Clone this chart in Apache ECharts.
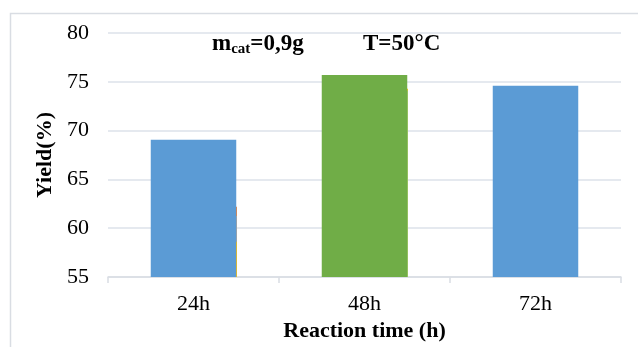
<!DOCTYPE html>
<html>
<head>
<meta charset="utf-8">
<script src="https://cdn.jsdelivr.net/npm/echarts@6/dist/echarts.min.js"></script>
<style>html,body{margin:0;padding:0;background:#fff}#c{width:638px;height:347px}</style>
</head>
<body>
<div id="c"></div>
<script>
const categories = ['24h', '48h', '72h'];
const yieldValues = [69.05, 75.7, 74.6];
const barColors = ['#5B9BD5', '#70AD47', '#5B9BD5'];
// thin hidden-series slivers peeking out at the right edge of the bars
const sliverCats = [0, 0, 0, 1, 1];
const sliverValues = [62.2, 61.25, 58.6, 74.3, 74.1];
const sliverColors = ['#ED7D31', '#A5A5A5', '#FFC000', '#FFC000', '#9CC86E'];
const yTicks = { min: 55, max: 80, interval: 5 };
const yName = 'Yield(%)';
const xName = 'Reaction time (h)';

const chart = echarts.init(document.getElementById('c'), null, { renderer: 'canvas' });
const serif = '"Liberation Serif", "Times New Roman", serif';
chart.setOption({
  animation: false,
  backgroundColor: '#fff',
  grid: { left: 108, right: 17, top: 33, bottom: 70, containLabel: false },
  xAxis: {
    type: 'category',
    data: categories,
    name: xName,
    nameLocation: 'middle',
    nameGap: 43,
    nameTextStyle: { fontFamily: serif, fontWeight: 'bold', fontSize: 22, color: '#000' },
    axisLine: { lineStyle: { color: '#d9dde3', width: 1.5 } },
    axisTick: { show: true, length: 6, lineStyle: { color: '#d9dde3', width: 1.5 } },
    axisLabel: { fontFamily: serif, fontSize: 22, color: '#000', margin: 16 }
  },
  yAxis: {
    type: 'value',
    min: yTicks.min, max: yTicks.max, interval: yTicks.interval,
    name: yName,
    nameLocation: 'middle',
    nameGap: 45,
    nameTextStyle: { fontFamily: serif, fontWeight: 'bold', fontSize: 22, color: '#000' },
    axisLine: { show: false },
    axisTick: { show: false },
    splitLine: { lineStyle: { color: '#dde2ea', width: 1.5 } },
    axisLabel: { fontFamily: serif, fontSize: 22, color: '#000', margin: 19 }
  },
  series: [
    {
      type: 'custom',
      z: 1,
      data: sliverValues.map((v, i) => [sliverCats[i], v]),
      renderItem: function (params, api) {
        const top = api.coord([api.value(0), api.value(1)]);
        const base = api.coord([api.value(0), yTicks.min]);
        const band = api.size([1, 0])[0];
        const x = top[0] + band * 0.25 - 0.5;
        return {
          type: 'rect',
          shape: { x: x, y: top[1], width: 1.2, height: base[1] - top[1] },
          style: { fill: sliverColors[params.dataIndex] }
        };
      }
    },
    {
      type: 'bar',
      barWidth: '50%',
      z: 3,
      data: yieldValues.map((v, i) => ({ value: v, itemStyle: { color: barColors[i] } }))
    }
  ],
  graphic: [
    { type: 'rect', shape: { x: 10.5, y: 13.5, width: 700, height: 400 }, style: { fill: 'none', stroke: '#d9dde3', lineWidth: 1.5 }, silent: true, z: -1 },
    {
      type: 'text', x: 212, y: 44,
      style: {
        text: '{b|m}{s|cat}{b|=0,9g}',
        verticalAlign: 'middle',
        rich: {
          b: { fontFamily: serif, fontWeight: 'bold', fontSize: 23, fill: '#000' },
          s: { fontFamily: serif, fontWeight: 'bold', fontSize: 15, fill: '#000', padding: [11, 0, 0, 0] }
        }
      }
    },
    {
      type: 'text', x: 363, y: 44,
      style: { text: 'T=50°C', verticalAlign: 'middle', fontFamily: serif, fontWeight: 'bold', fontSize: 23, fill: '#000' }
    }
  ]
});
</script>
</body>
</html>
